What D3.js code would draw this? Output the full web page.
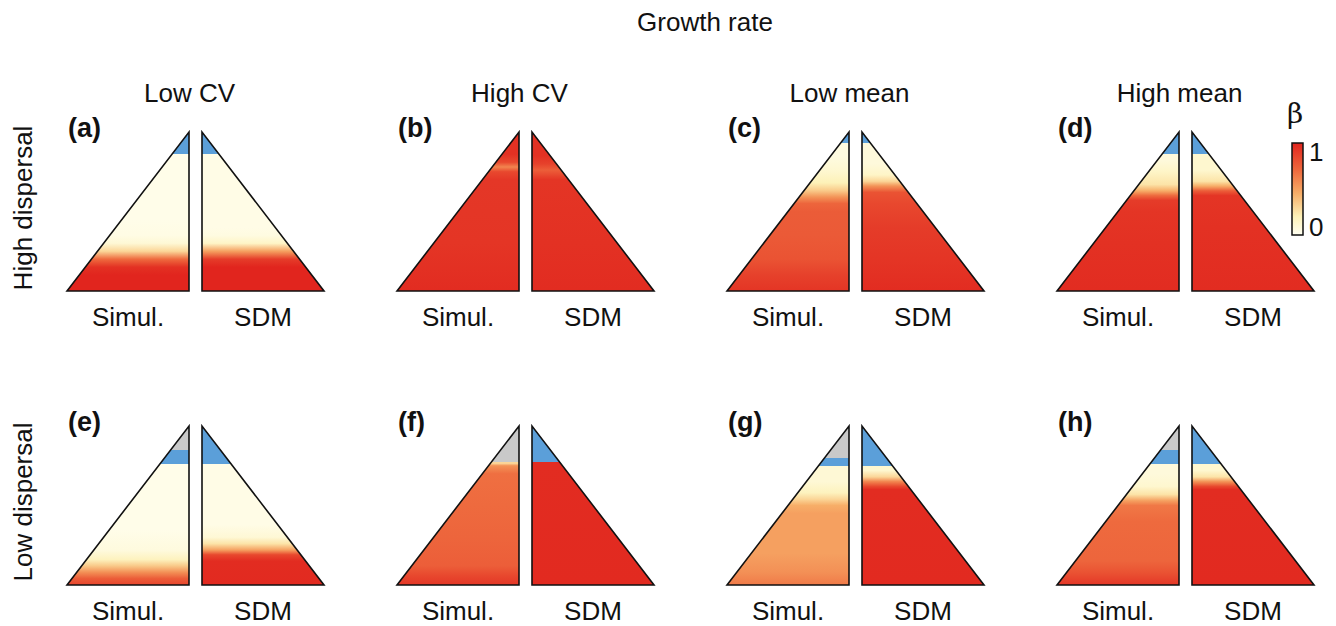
<!DOCTYPE html>
<html>
<head>
<meta charset="utf-8">
<script src="https://cdn.jsdelivr.net/npm/d3@7"></script>
<style>
  body { margin: 0; background: #fff; }
  text { font-family: "Liberation Sans", Arial, sans-serif; fill: #111; }
</style>
</head>
<body>
<svg id="chart" width="1336" height="626"></svg>
<script>
// Labels
var panelLetters = ["(a)", "(b)", "(c)", "(d)", "(e)", "(f)", "(g)", "(h)"];
var colTitles = ["Low CV", "High CV", "Low mean", "High mean"];
var rowTitles = ["High dispersal", "Low dispersal"];
var halfLabels = ["Simul.", "SDM"];
var legendTicks = [0, 1];

// beta profiles: [height fraction from base, beta]
var simulProfiles = [
  [[0,1],[0.1,1],[0.15,0.95],[0.2,0.7],[0.25,0.3],[0.3,0.1],[0.35,0.05],[0.45,0.03],[0.864,0.03]],
  [[0,0.97],[0.3,0.93],[0.7,0.92],[0.75,0.85],[0.78,0.6],[0.81,0.85],[0.86,0.95],[1,0.95]],
  [[0,0.93],[0.1,0.88],[0.2,0.8],[0.35,0.77],[0.5,0.76],[0.55,0.72],[0.59,0.55],[0.63,0.35],[0.68,0.2],[0.75,0.12],[0.85,0.06],[0.93,0.04]],
  [[0,0.97],[0.3,0.95],[0.5,0.93],[0.57,0.9],[0.6,0.7],[0.63,0.45],[0.67,0.25],[0.75,0.15],[0.82,0.08],[0.864,0.05]],
  [[0,0.86],[0.04,0.76],[0.08,0.56],[0.12,0.35],[0.16,0.18],[0.22,0.07],[0.35,0.03],[0.762,0.03]],
  [[0,0.92],[0.06,0.85],[0.12,0.75],[0.3,0.72],[0.5,0.7],[0.7,0.68],[0.75,0.55],[0.765,0.3]],
  [[0,0.64],[0.08,0.56],[0.2,0.5],[0.45,0.5],[0.5,0.45],[0.54,0.3],[0.58,0.18],[0.65,0.1],[0.75,0.08]],
  [[0,0.92],[0.08,0.8],[0.15,0.72],[0.4,0.7],[0.5,0.65],[0.53,0.5],[0.57,0.25],[0.62,0.12],[0.7,0.08],[0.76,0.06]]
];
var sdmProfiles = [
  [[0,1],[0.15,1],[0.2,0.9],[0.25,0.5],[0.3,0.15],[0.35,0.06],[0.4,0.04],[0.864,0.04]],
  [[0,0.97],[0.3,0.95],[0.7,0.93],[0.76,0.75],[0.8,0.88],[0.85,0.95],[1,0.95]],
  [[0,0.97],[0.2,0.93],[0.4,0.9],[0.55,0.85],[0.62,0.8],[0.66,0.55],[0.69,0.3],[0.73,0.15],[0.8,0.08],[0.93,0.05]],
  [[0,0.97],[0.4,0.95],[0.6,0.93],[0.63,0.75],[0.66,0.45],[0.69,0.25],[0.76,0.12],[0.864,0.05]],
  [[0,0.98],[0.15,0.97],[0.19,0.85],[0.22,0.5],[0.26,0.25],[0.3,0.1],[0.38,0.04],[0.762,0.03]],
  [[0,0.98],[0.77,0.97]],
  [[0,0.98],[0.6,0.97],[0.62,0.85],[0.65,0.6],[0.68,0.3],[0.72,0.12],[0.75,0.1]],
  [[0,0.98],[0.6,0.97],[0.62,0.85],[0.65,0.55],[0.68,0.25],[0.72,0.12],[0.76,0.08]]
];
// where the blue / grey zones start (height fraction), null = none
var simulBlue = [0.864, null, 0.93, 0.864, 0.762, null, 0.75, 0.76];
var simulGrey = [null, null, null, null, 0.846, 0.773, 0.80, 0.846];
var sdmBlue = [0.864, null, 0.93, 0.864, 0.762, 0.773, 0.75, 0.76];
var sdmGrey = [null, null, null, null, null, null, null, null];

var blueCol = "#5b9fd9";
var greyCol = "#c9c9c9";

var svg = d3.select("#chart");
var defs = svg.append("defs");

var betaColor = d3.scaleLinear()
  .domain([0, 0.2, 0.45, 0.7, 1])
  .range(["#fffff2", "#fdf1b8", "#f7ae68", "#ee6a3e", "#e1251e"])
  .clamp(true);

var triW = 122, gap = 13, triH = 159;
var colX = d3.scalePoint().domain(d3.range(4)).range([67, 67 + 330 * 3]);
var rowY = [132, 426];
var h = d3.scaleLinear().domain([0, 1]).range([triH, 0]);

function addGradient(id, profile, blueFrom, greyFrom) {
  var g = defs.append("linearGradient")
    .attr("id", id)
    .attr("gradientUnits", "userSpaceOnUse")
    .attr("x1", 0).attr("x2", 0)
    .attr("y1", h(0)).attr("y2", h(1));
  var stops = profile.map(function(d) { return { off: d[0], col: betaColor(d[1]) }; });
  var cut = blueFrom != null ? blueFrom : greyFrom;
  if (cut != null) {
    stops = stops.filter(function(s) { return s.off < cut; });
    stops.push({ off: cut, col: stops[stops.length - 1].col });
    if (blueFrom != null) {
      stops.push({ off: blueFrom, col: blueCol });
      var top = greyFrom != null ? greyFrom : 1;
      stops.push({ off: top, col: blueCol });
    }
    if (greyFrom != null) {
      stops.push({ off: greyFrom, col: greyCol });
      stops.push({ off: 1, col: greyCol });
    }
  }
  g.selectAll("stop").data(stops).enter().append("stop")
    .attr("offset", function(d) { return d.off; })
    .attr("stop-color", function(d) { return d.col; });
}

for (var i = 0; i < 8; i++) {
  var col = i % 4, row = Math.floor(i / 4);
  addGradient("gs" + i, simulProfiles[i], simulBlue[i], simulGrey[i]);
  addGradient("gd" + i, sdmProfiles[i], sdmBlue[i], sdmGrey[i]);

  var p = svg.append("g").attr("transform", "translate(" + colX(col) + "," + rowY[row] + ")");
  var left = [[0, h(0)], [triW, h(1)], [triW, h(0)]];
  var right = [[triW + gap, h(1)], [triW + gap, h(0)], [2 * triW + gap, h(0)]];
  p.append("path")
    .attr("d", d3.line()(left) + "Z")
    .attr("fill", "url(#gs" + i + ")")
    .attr("stroke", "#111").attr("stroke-width", 1.6).attr("stroke-linejoin", "miter");
  p.append("path")
    .attr("d", d3.line()(right) + "Z")
    .attr("fill", "url(#gd" + i + ")")
    .attr("stroke", "#111").attr("stroke-width", 1.6).attr("stroke-linejoin", "miter");

  p.append("text").attr("x", 1).attr("y", 5)
    .attr("font-size", 27).attr("font-weight", "bold")
    .text(panelLetters[i]);
  p.append("text").attr("x", triW / 2).attr("y", triH + 35)
    .attr("text-anchor", "middle").attr("font-size", 26)
    .text(halfLabels[0]);
  p.append("text").attr("x", triW + gap + triW / 2).attr("y", triH + 35)
    .attr("text-anchor", "middle").attr("font-size", 26)
    .text(halfLabels[1]);
  if (row == 0) {
    p.append("text").attr("x", triW + gap / 2 - 6).attr("y", -30)
      .attr("text-anchor", "middle").attr("font-size", 26)
      .text(colTitles[col]);
  }
}

svg.append("text").attr("x", 705).attr("y", 31)
  .attr("text-anchor", "middle").attr("font-size", 26)
  .text("Growth rate");

rowTitles.forEach(function(t, r) {
  svg.append("text")
    .attr("transform", "translate(32," + (rowY[r] + 76) + ") rotate(-90)")
    .attr("text-anchor", "middle").attr("font-size", 26)
    .text(t);
});

// colour bar
var cb = defs.append("linearGradient").attr("id", "cbar")
  .attr("x1", 0).attr("x2", 0).attr("y1", 1).attr("y2", 0);
cb.selectAll("stop").data(betaColor.domain()).enter().append("stop")
  .attr("offset", function(d) { return d; })
  .attr("stop-color", function(d) { return betaColor(d); });
var cbY = d3.scaleLinear().domain([0, 1]).range([235, 143]);
svg.append("rect").attr("x", 1292).attr("y", cbY(1))
  .attr("width", 11).attr("height", cbY(0) - cbY(1))
  .attr("fill", "url(#cbar)").attr("stroke", "#111").attr("stroke-width", 1.5);
svg.selectAll(".cbtick").data(legendTicks).enter().append("text")
  .attr("class", "cbtick")
  .attr("x", 1309)
  .attr("y", function(d) { return d == 1 ? cbY(d) + 18 : cbY(d) + 1; })
  .attr("font-size", 26)
  .text(function(d) { return d; });
svg.append("text").attr("x", 1287).attr("y", 123)
  .attr("font-size", 28)
  .style("font-family", "'DejaVu Serif', serif")
  .text("β");
</script>
</body>
</html>
